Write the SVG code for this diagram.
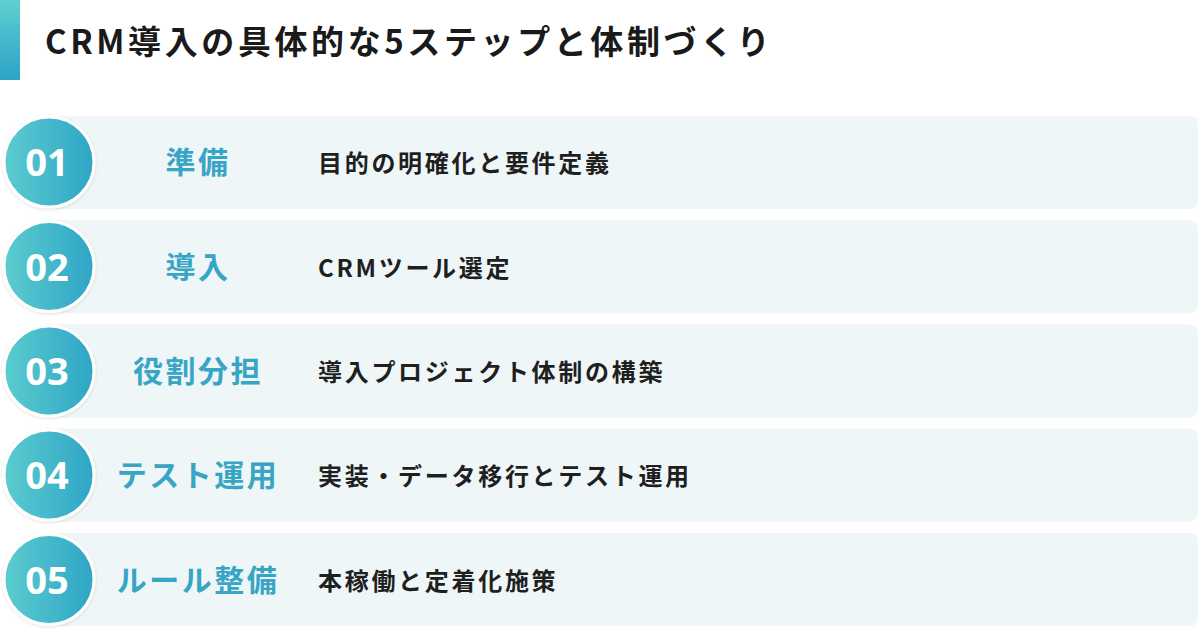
<svg xmlns="http://www.w3.org/2000/svg" width="1200" height="630" viewBox="0 0 1200 630">
<defs>
<linearGradient id="bar" x1="0" y1="0" x2="0" y2="1">
<stop offset="0" stop-color="#5dd0d0"/>
<stop offset="1" stop-color="#2ea2c7"/>
</linearGradient>
<linearGradient id="circ" x1="0" y1="0" x2="1" y2="0">
<stop offset="0" stop-color="#5ccccf"/>
<stop offset="1" stop-color="#2ea5c6"/>
</linearGradient>
<filter id="sh" x="-20%" y="-20%" width="140%" height="140%">
<feDropShadow dx="0" dy="1" stdDeviation="1.5" flood-color="#000" flood-opacity="0.12"/>
</filter>
<style>
.title{font-family:"Noto Sans CJK JP","Noto Sans",sans-serif;font-weight:700;font-size:33px;fill:#1a1a1a;letter-spacing:3.6px}
.card{fill:#eef6f8}
.circle{fill:url(#circ);stroke:#ffffff;stroke-width:3;filter:url(#sh)}
.num{font-family:"Noto Sans","Noto Sans CJK JP",sans-serif;font-weight:700;font-size:38px;fill:#ffffff;text-anchor:middle}
.label{font-family:"Noto Sans CJK JP",sans-serif;font-weight:700;font-size:30px;fill:#38a5c5;text-anchor:middle;letter-spacing:2.5px}
.desc{font-family:"Noto Sans CJK JP",sans-serif;font-weight:700;font-size:24px;fill:#1f1f1f;letter-spacing:2.7px}
</style>
</defs>
<rect width="1200" height="630" fill="#ffffff"/>
<g id="header">
<rect x="0" y="0" width="20" height="80" fill="url(#bar)"/>
<text class="title" x="45" y="54">CRM導入の具体的な5ステップと体制づくり</text>
</g>
<g id="connectors"/>
<g id="step1">
<rect class="card" x="40" y="116" width="1158" height="93" rx="8"/>
<circle class="circle" cx="49" cy="162" r="45"/>
<text class="num" x="47" y="176">01</text>
<text class="label" x="198" y="173">準備</text>
<text class="desc" x="318" y="172">目的の明確化と要件定義</text>
</g>
<g id="step2">
<rect class="card" x="40" y="220.25" width="1158" height="93" rx="8"/>
<circle class="circle" cx="49" cy="266.5" r="45"/>
<text class="num" x="47" y="280.5">02</text>
<text class="label" x="198" y="277.5">導入</text>
<text class="desc" x="318" y="276.5">CRMツール選定</text>
</g>
<g id="step3">
<rect class="card" x="40" y="324.5" width="1158" height="93" rx="8"/>
<circle class="circle" cx="49" cy="371" r="45"/>
<text class="num" x="47" y="385">03</text>
<text class="label" x="198" y="382">役割分担</text>
<text class="desc" x="318" y="381">導入プロジェクト体制の構築</text>
</g>
<g id="step4">
<rect class="card" x="40" y="428.75" width="1158" height="93" rx="8"/>
<circle class="circle" cx="49" cy="475" r="45"/>
<text class="num" x="47" y="489">04</text>
<text class="label" x="198" y="486">テスト運用</text>
<text class="desc" x="318" y="485">実装・データ移行とテスト運用</text>
</g>
<g id="step5">
<rect class="card" x="40" y="533" width="1158" height="93" rx="8"/>
<circle class="circle" cx="49" cy="579.5" r="45"/>
<text class="num" x="47" y="593.5">05</text>
<text class="label" x="198" y="590.5">ルール整備</text>
<text class="desc" x="318" y="589.5">本稼働と定着化施策</text>
</g>
</svg>
